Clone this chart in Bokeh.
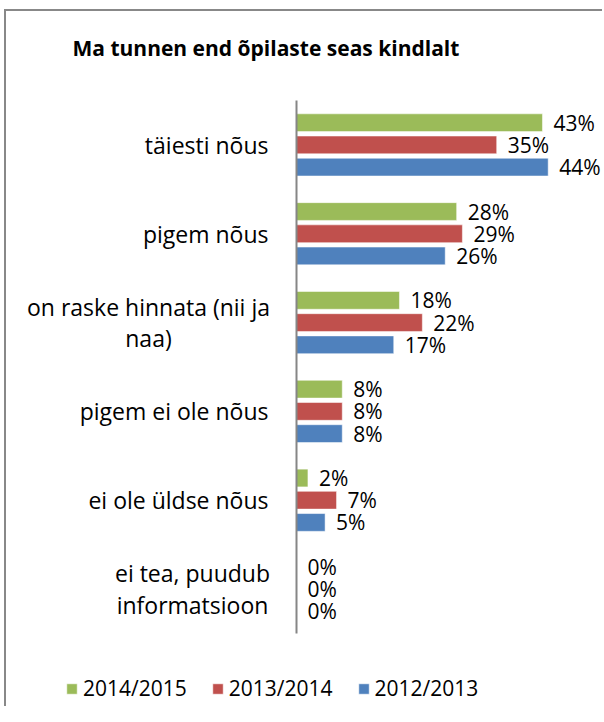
from bokeh.plotting import figure
from bokeh.models import Range1d, ColumnDataSource, Legend, LegendItem, LinearAxis, FixedTicker
from bokeh.transform import dodge
from bokeh.core.properties import value
from bokeh.embed import file_html
from bokeh.resources import INLINE

chart_title = "Ma tunnen end õpilaste seas kindlalt"
categories = [
    "täiesti nõus",
    "pigem nõus",
    "on raske hinnata (nii ja\nnaa)",
    "pigem ei ole nõus",
    "ei ole üldse nõus",
    "ei tea, puudub\ninformatsioon",
]
series_names = ["2014/2015", "2013/2014", "2012/2013"]
v_2014_2015 = [43, 28, 18, 8, 2, 0]
v_2013_2014 = [35, 29, 22, 8, 7, 0]
v_2012_2013 = [44, 26, 17, 8, 5, 0]
series_values = [v_2014_2015, v_2013_2014, v_2012_2013]
colors = ["#9BBB59", "#C0504D", "#4F81BD"]
offsets = [0.25, 0.0, -0.25]

FONT = "Open Sans"

# ---- layout (pixels) ----
W, H = 598, 697
TOP_BORDER = 37          # title panel height (min_border_top)
FRAME_H = H - TOP_BORDER
AXIS_PX = 290            # axis position from frame left
PX_PER_PCT = 5.72
SLOT_PX = 88.83          # height of one category slot
CAT_TOP_PX = 39          # top of category area below frame top

n = len(categories)
ypos = [n - i for i in range(n)]                 # category centres (top -> bottom)
y_top = n + 0.5 + CAT_TOP_PX / SLOT_PX
y_bot = y_top - FRAME_H / SLOT_PX
x_start = -AXIS_PX / PX_PER_PCT
x_end = (W - AXIS_PX) / PX_PER_PCT

p = figure(
    width=W, height=H,
    x_range=Range1d(x_start, x_end), y_range=Range1d(y_bot, y_top),
    x_axis_type=None, y_axis_type=None,
    output_backend="svg", toolbar_location=None,
    min_border_left=0, min_border_right=0, min_border_top=TOP_BORDER, min_border_bottom=0,
    title=chart_title,
)
p.styles = {"border-top": "2px solid #888888", "border-left": "2px solid #888888",
            "margin-left": "4px", "margin-top": "9px", "padding-top": "13px",
            "background-color": "white"}
p.outline_line_color = None
p.background_fill_color = "white"
p.border_fill_color = "white"

p.title.text_font = FONT
p.title.text_font_size = "21px"
p.title.text_font_style = "bold"
p.title.text_color = "black"
p.title.align = "left"
p.title.offset = 66
p.title.standoff = 0

yax = LinearAxis(ticker=FixedTicker(ticks=[]), fixed_location=0, bounds=(0.5, n + 0.5),
                 axis_line_color="#868686", axis_line_width=2,
                 major_tick_line_color=None, minor_tick_line_color=None,
                 major_tick_out=0, major_tick_in=0, major_label_standoff=0)
p.add_layout(yax, "left")

# category labels (Excel-style: block right-aligned, wrapped lines centred)
single_idx = [i for i, c in enumerate(categories) if "\n" not in c]
multi_idx = [i for i, c in enumerate(categories) if "\n" in c]
multi_offsets = {"on raske hinnata (nii ja\nnaa)": -148, "ei tea, puudub\ninformatsioon": -104}
lab_style = dict(text_font=value(FONT), text_font_size="23px", text_color="black",
                 text_baseline="middle", text_line_height=0.98)
src_single = ColumnDataSource(dict(y=[ypos[i] for i in single_idx],
                                   cat=[categories[i] for i in single_idx]))
p.text(x=0, y="y", text="cat", source=src_single, x_offset=-28, text_align="right", **lab_style)
src_multi = ColumnDataSource(dict(y=[ypos[i] for i in multi_idx],
                                  cat=[categories[i] for i in multi_idx],
                                  xo=[multi_offsets[categories[i]] for i in multi_idx]))
p.text(x=0, y="y", text="cat", source=src_multi, x_offset="xo", text_align="center", **lab_style)

items = []
for name, vals, col, off in zip(series_names, series_values, colors, offsets):
    src = ColumnDataSource(dict(y=ypos, v=vals, lab=[f"{v}%" for v in vals]))
    r = p.hbar(y=dodge("y", off), left=0, right="v", height=0.2,
               fill_color=col, line_color="white", line_width=0.5, source=src)
    p.text(x="v", y=dodge("y", off), text="lab", source=src,
           x_offset=11, text_align="left", text_baseline="middle",
           text_font=value(FONT), text_font_size="21px", text_color="black")
    items.append(LegendItem(label=name, renderers=[r]))

legend = Legend(items=items, orientation="horizontal", location=(59, 19),
                padding=0, margin=0, spacing=24, glyph_width=13, glyph_height=13,
                label_standoff=5, label_text_font=FONT, label_text_font_size="21px",
                label_text_color="black", border_line_color=None, background_fill_alpha=0)
p.add_layout(legend)

open("out.html", "w").write(file_html(p, INLINE))
